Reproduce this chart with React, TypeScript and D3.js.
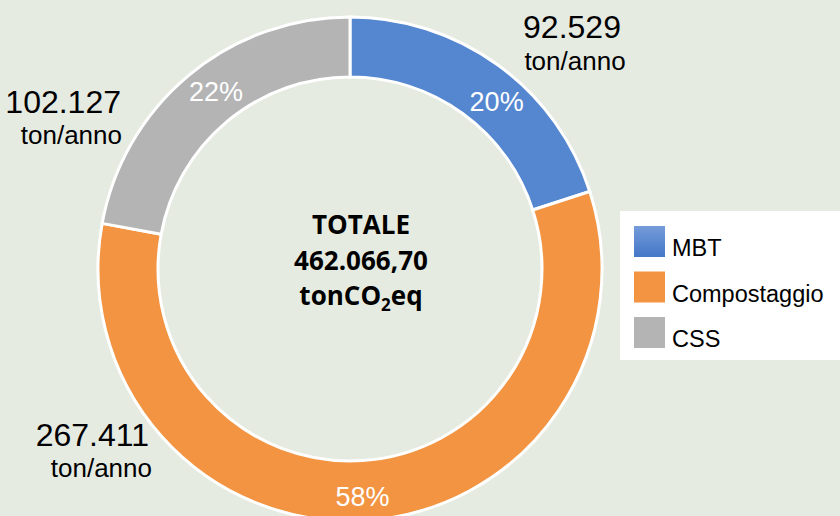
import React from 'react';
import * as d3 from 'd3';

const categories = ['MBT', 'Compostaggio', 'CSS'];
const values = [92.529, 267.411, 102.127];
const valueLabels = ['92.529', '267.411', '102.127'];
const totalLabel = '462.066,70';
const colors = ['#5587d1', '#f29441', '#b4b4b4'];

const width = 840,
  height = 516;
const cx = 350,
  cy = 269;
const outerR = 252,
  innerR = 192;

// where Excel put the outside "ton/anno" labels, one per category
const outside = [
  { x: 572, y: 38, anchor: 'middle', sub: 575, subY: 70 },
  { x: 149, y: 446, anchor: 'end', sub: 152, subY: 477 },
  { x: 121, y: 113, anchor: 'end', sub: 122, subY: 144 }
];
// small nudges Excel gives the percent labels
const pctNudge = [
  [16, 12],
  [-2, 6],
  [8, -6]
];

const font = '"Liberation Sans", Arial, sans-serif';

export default function App() {
  const total = d3.sum(values);
  const pie = d3
    .pie<number>()
    .sort(null)
    .value(d => d);
  const arcs = pie(values);
  const arc = d3
    .arc<d3.PieArcDatum<number>>()
    .innerRadius(innerR)
    .outerRadius(outerR);
  const mid = d3
    .arc<d3.PieArcDatum<number>>()
    .innerRadius((innerR + outerR) / 2)
    .outerRadius((innerR + outerR) / 2);

  return (
    <svg
      width={width}
      height={height}
      style={{ position: 'absolute', left: 0, top: 0, display: 'block' }}
    >
      <defs>
        <linearGradient id="mbtGrad" x1="0" y1="0" x2="0" y2="1">
          <stop offset="0" stopColor="#759bd9" />
          <stop offset="1" stopColor="#4477c8" />
        </linearGradient>
      </defs>
      <rect width={width} height={height} fill="#e6ebe2" />
      <g transform={`translate(${cx},${cy})`}>
        {arcs.map((a, i) => (
          <path
            key={categories[i]}
            d={arc(a) || ''}
            fill={colors[i]}
            stroke="#ffffff"
            strokeWidth={3}
          />
        ))}
        {arcs.map((a, i) => {
          const [x, y] = mid.centroid(a);
          return (
            <text
              key={'p' + i}
              x={x + pctNudge[i][0]}
              y={y + pctNudge[i][1]}
              textAnchor="middle"
              dominantBaseline="central"
              fill="#ffffff"
              fontFamily={font}
              fontSize={27}
            >
              {Math.round((a.value / total) * 100) + '%'}
            </text>
          );
        })}
      </g>
      {outside.map((o, i) => (
        <g key={'o' + i} fontFamily={font} fill="#000000">
          <text x={o.x} y={o.y} textAnchor={o.anchor} fontSize={32}>
            {valueLabels[i]}
          </text>
          <text x={o.sub} y={o.subY} textAnchor={o.anchor} fontSize={26}>
            ton/anno
          </text>
        </g>
      ))}
      <g
        fontFamily='"Open Sans", Lato, sans-serif'
        fontWeight="bold"
        fontSize={26}
        textAnchor="middle"
        fill="#000000"
      >
        <text x={361} y={234}>
          TOTALE
        </text>
        <text x={361} y={270}>
          {totalLabel}
        </text>
        <text x={361} y={305}>
          tonCO
          <tspan fontSize={17} dy={6}>
            2
          </tspan>
          <tspan dy={-6}>eq</tspan>
        </text>
      </g>
      <rect x={620} y={211} width={230} height={149} fill="#ffffff" />
      {categories.map((c, i) => (
        <g key={'l' + i} transform={`translate(634,${226 + i * 45.5})`}>
          <rect width={31} height={31} fill={i === 0 ? 'url(#mbtGrad)' : colors[i]} />
          <text x={38} y={30} fontFamily={font} fontSize={23.5} fill="#000000">
            {c}
          </text>
        </g>
      ))}
    </svg>
  );
}
